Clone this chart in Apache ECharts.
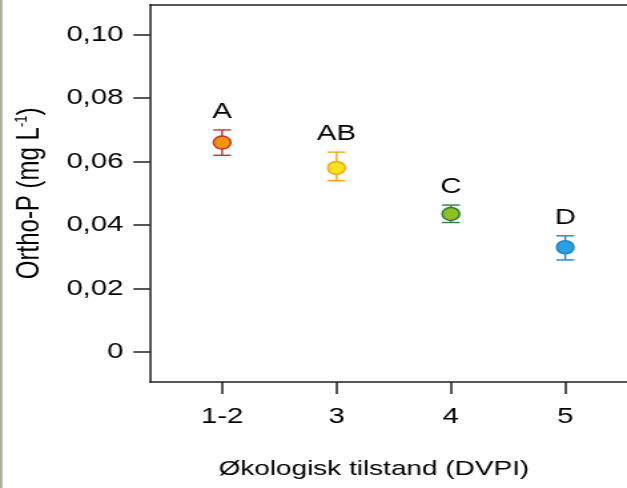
<!DOCTYPE html>
<html>
<head>
<meta charset="utf-8">
<script src="https://cdn.jsdelivr.net/npm/echarts@6/dist/echarts.min.js"></script>
<style>
  html, body { margin: 0; padding: 0; background: #fff; overflow: hidden; }
  #main { width: 471px; height: 488px; transform: scaleX(1.3312); transform-origin: 0 0; }
</style>
</head>
<body>
<div id="main"></div>
<script>
// ---- data ----
const categories = ['1-2', '3', '4', '5'];
const means      = [0.066, 0.058, 0.0435, 0.033];
const upper      = [0.070, 0.063, 0.0463, 0.0366];
const lower      = [0.062, 0.054, 0.0408, 0.029];
const letters    = ['A', 'AB', 'C', 'D'];
const yTicks     = [0, 0.02, 0.04, 0.06, 0.08, 0.10];

// ---- styles ----
const fillColors   = ['#f29400', '#f8e31e', '#8fc020', '#2ba0e2'];
const strokeColors = ['#c8323c', '#f4a51c', '#2c7f3e', '#1d84d2'];
const FONT = '"Liberation Sans", Arial, Helvetica, sans-serif';
const AXIS_COLOR = '#1f1f1f';
const TEXT_COLOR = '#000';

const chart = echarts.init(document.getElementById('main'), null, { renderer: 'canvas' });

const pointData = categories.map((c, i) => ({
  value: [i + 1, means[i]],
  itemStyle: { color: fillColors[i], borderColor: strokeColors[i], borderWidth: 1.5, opacity: 1 }
}));
const errData = categories.map((c, i) => [i + 1, lower[i], upper[i]]);

const option = {
  animation: false,
  backgroundColor: '#fff',
  grid: { left: 112.7, right: 0, top: 4.7, bottom: 106, containLabel: false },
  graphic: [{
    type: 'rect', left: 0, top: 0, shape: { width: 1.8, height: 488 },
    style: { fill: '#a9ad98' }, silent: true
  }],
  xAxis: [{
    type: 'value', min: 0.37, max: 4.54,
    axisLine: { show: true, onZero: false, lineStyle: { color: AXIS_COLOR, width: 1.6 } },
    axisTick: { show: true, length: 12, customValues: [1, 2, 3, 4], lineStyle: { color: AXIS_COLOR, width: 1.5 } },
    axisLabel: {
      customValues: [1, 2, 3, 4], margin: 24,
      fontSize: 22, fontFamily: FONT, color: TEXT_COLOR,
      formatter: v => categories[Math.round(v) - 1]
    },
    splitLine: { show: false },
    name: 'Økologisk tilstand (DVPI)', nameLocation: 'middle', nameGap: 77,
    nameTextStyle: { fontSize: 21, fontFamily: FONT, color: TEXT_COLOR, padding: [0, 22, 0, 0] }
  }, {
    type: 'value', position: 'top', min: 0.37, max: 4.54,
    axisLine: { show: true, onZero: false, lineStyle: { color: AXIS_COLOR, width: 1.6 } },
    axisTick: { show: false }, axisLabel: { show: false }, splitLine: { show: false }
  }],
  yAxis: {
    type: 'value', min: -0.0095, max: 0.1095,
    axisLine: { show: true, onZero: false, lineStyle: { color: AXIS_COLOR, width: 1.5 } },
    axisTick: { show: true, length: 12.5, customValues: yTicks, lineStyle: { color: AXIS_COLOR, width: 1.5 } },
    axisLabel: {
      customValues: yTicks, margin: 20,
      fontSize: 22, fontFamily: FONT, color: TEXT_COLOR,
      formatter: v => (Math.abs(v) < 1e-9 ? '0' : v.toFixed(2).replace('.', ','))
    },
    splitLine: { show: false },
    name: 'Ortho-P (mg L{sup|-1})', nameLocation: 'middle', nameGap: 78, nameRotate: 90,
    nameTextStyle: {
      fontSize: 24, fontFamily: FONT, color: TEXT_COLOR,
      rich: { sup: { fontSize: 13, fontFamily: FONT, color: TEXT_COLOR, padding: [0, 0, 12, 0] } }
    }
  },
  series: [{
    type: 'custom',
    xAxisIndex: 0,
    data: errData,
    encode: { x: 0, y: [1, 2] },
    z: 2,
    renderItem: function (params, api) {
      const i = params.dataIndex;
      const x = api.value(0);
      const pLo = api.coord([x, api.value(1)]);
      const pHi = api.coord([x, api.value(2)]);
      const w = 6.7;
      const st = { stroke: strokeColors[i], lineWidth: 1.4 };
      return {
        type: 'group',
        children: [
          { type: 'line', shape: { x1: pHi[0], y1: pHi[1], x2: pLo[0], y2: pLo[1] }, style: st },
          { type: 'line', shape: { x1: pHi[0] - w, y1: pHi[1], x2: pHi[0] + w, y2: pHi[1] }, style: st },
          { type: 'line', shape: { x1: pLo[0] - w, y1: pLo[1], x2: pLo[0] + w, y2: pLo[1] }, style: st },
          {
            type: 'text', x: pHi[0], y: pHi[1] - 7,
            style: {
              text: letters[i], fill: TEXT_COLOR, fontSize: 22, fontFamily: FONT,
              align: 'center', verticalAlign: 'bottom'
            }
          }
        ]
      };
    }
  }, {
    type: 'scatter',
    xAxisIndex: 0,
    symbol: 'circle',
    symbolSize: 13,
    z: 3,
    itemStyle: { opacity: 1 },
    data: pointData
  }]
};
chart.setOption(option);
</script>
</body>
</html>
